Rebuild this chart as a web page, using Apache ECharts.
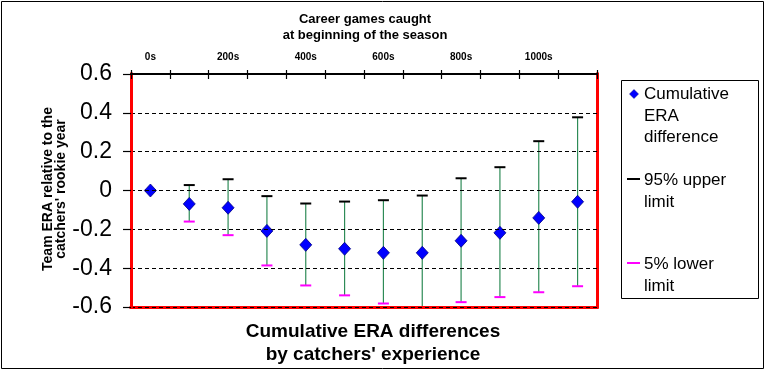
<!DOCTYPE html>
<html>
<head>
<meta charset="utf-8">
<script src="https://cdn.jsdelivr.net/npm/echarts@6/dist/echarts.min.js"></script>
<style>html,body{margin:0;padding:0;background:#fff}#c{width:772px;height:374px}</style>
</head>
<body>
<div id="c"></div>
<script>
var categories = ['0s','100s','200s','300s','400s','500s','600s','700s','800s','900s','1000s','1100s'];
var eraDiff = [0, -0.069, -0.089, -0.208, -0.28, -0.30, -0.321, -0.321, -0.259, -0.218, -0.141, -0.058];
var upper95 = [0, 0.028, 0.058, -0.029, -0.067, -0.057, -0.05, -0.026, 0.063, 0.12, 0.254, 0.377];
var lower5 = [0, -0.16, -0.23, -0.386, -0.489, -0.54, -0.582, -0.63, -0.575, -0.549, -0.524, -0.493];
var yTicks = [-0.6, -0.4, -0.2, 0, 0.2, 0.4, 0.6];

var F = '"Liberation Sans", Arial, sans-serif';
var chart = echarts.init(document.getElementById('c'), null, {renderer: 'canvas'});

var barData = categories.map(function (c, i) { return [i, lower5[i], upper95[i]]; });
var ptData = categories.map(function (c, i) { return [i, eraDiff[i]]; });

chart.setOption({
  animation: false,
  backgroundColor: '#fff',
  grid: {left: 131, right: 175, top: 74, bottom: 67, show: false},
  xAxis: [{
    type: 'category', data: categories, position: 'top', boundaryGap: true,
    axisLine: {show: true, onZero: false, lineStyle: {color: '#000', width: 2}},
    axisTick: {show: true, interval: 0, length: 4, inside: false, lineStyle: {color: '#000', width: 1.2}},
    axisLabel: {interval: 1, margin: 12, fontFamily: F, fontWeight: 'bold', fontSize: 10, color: '#000'},
    splitLine: {show: false}, z: 10
  }, {
    type: 'category', data: categories, position: 'top', boundaryGap: true,
    axisLine: {show: false, onZero: false},
    axisTick: {show: true, interval: 0, length: 5, inside: true, lineStyle: {color: '#000', width: 1.2}},
    axisLabel: {show: false}, splitLine: {show: false}, z: 10
  }, {
    type: 'category', data: categories, position: 'bottom', boundaryGap: true,
    axisLine: {show: true, onZero: false, lineStyle: {color: '#ff0000', width: 3, cap: 'square'}},
    axisTick: {show: false}, axisLabel: {show: false}, splitLine: {show: false}, z: 8
  }],
  yAxis: [{
    type: 'value', min: -0.6, max: 0.6, interval: 0.2, position: 'left',
    axisLine: {show: true, onZero: false, lineStyle: {color: '#ff0000', width: 3, cap: 'square'}},
    axisTick: {show: true, length: 8, lineStyle: {color: '#000', width: 1.2}},
    axisLabel: {margin: 19, fontFamily: F, fontSize: 23, color: '#000',
      formatter: function (v) { var r = Math.round(v * 10) / 10; return r === 0 ? '0' : String(r); }},
    splitLine: {show: true, lineStyle: {color: '#000', type: [4, 3], width: 1}},
    z: 9
  }, {
    type: 'value', min: -0.6, max: 0.6, interval: 0.2, position: 'right',
    axisLine: {show: true, onZero: false, lineStyle: {color: '#ff0000', width: 3, cap: 'square'}},
    axisTick: {show: false}, axisLabel: {show: false}, splitLine: {show: false}, z: 8
  }],
  series: [{
    type: 'custom', name: 'bars', xAxisIndex: 0, yAxisIndex: 0, clip: true, z: 2,
    data: barData,
    encode: {x: 0, y: [1, 2]},
    renderItem: function (params, api) {
      var x = api.value(0);
      var lo = api.coord([x, api.value(1)]);
      var hi = api.coord([x, api.value(2)]);
      var cw = 11;
      return {type: 'group', children: [
        {type: 'line', shape: {x1: lo[0], y1: lo[1], x2: hi[0], y2: hi[1]}, style: {stroke: '#2e8b57', lineWidth: 1.2}},
        {type: 'line', shape: {x1: hi[0] - cw / 2, y1: hi[1], x2: hi[0] + cw / 2, y2: hi[1]}, style: {stroke: '#000', lineWidth: 2}},
        {type: 'line', shape: {x1: lo[0] - cw / 2, y1: lo[1], x2: lo[0] + cw / 2, y2: lo[1]}, style: {stroke: '#ff00ff', lineWidth: 2}}
      ]};
    }
  }, {
    type: 'scatter', name: 'Cumulative ERA difference', data: ptData, xAxisIndex: 0, yAxisIndex: 0, z: 4,
    symbol: 'diamond', symbolSize: [12, 13],
    itemStyle: {color: '#0000ff', borderColor: '#000080', borderWidth: 0.8, opacity: 1}
  }],
  graphic: [
    {type: 'rect', shape: {x: 1.5, y: 1.5, width: 762, height: 367}, style: {fill: 'none', stroke: '#000', lineWidth: 1}, silent: true, z: -1},
    {type: 'text', x: 365, y: 11, style: {text: 'Career games caught\nat beginning of the season', font: 'bold 13px ' + F, fill: '#000', textAlign: 'center', lineHeight: 16}},
    {type: 'text', x: 55, y: 189, rotation: Math.PI / 2, style: {text: "Team ERA relative to the\ncatchers' rookie year", font: 'bold 14px ' + F, fill: '#000', textAlign: 'center', textVerticalAlign: 'middle', lineHeight: 13}},
    {type: 'text', x: 373, y: 320, style: {text: "Cumulative ERA differences\nby catchers' experience", font: 'bold 19px ' + F, fill: '#000', textAlign: 'center', lineHeight: 23}},
    {type: 'rect', shape: {x: 621.5, y: 80.5, width: 137, height: 218}, style: {fill: '#fff', stroke: '#000', lineWidth: 1}},
    {type: 'polygon', shape: {points: [[634, 89.5], [638.5, 94], [634, 98.5], [629.5, 94]]}, style: {fill: '#0000ff', stroke: '#000080', lineWidth: 0.5}},
    {type: 'text', x: 644, y: 84, style: {text: 'Cumulative\nERA\ndifference', font: '17px ' + F, fill: '#000', lineHeight: 21.5}},
    {type: 'line', shape: {x1: 627, y1: 179, x2: 640, y2: 179}, style: {stroke: '#000', lineWidth: 2}},
    {type: 'text', x: 644, y: 170, style: {text: '95% upper\nlimit', font: '17px ' + F, fill: '#000', lineHeight: 21.5}},
    {type: 'line', shape: {x1: 627, y1: 263, x2: 640, y2: 263}, style: {stroke: '#ff00ff', lineWidth: 2}},
    {type: 'text', x: 644, y: 254, style: {text: '5% lower\nlimit', font: '17px ' + F, fill: '#000', lineHeight: 21.5}}
  ]
});
</script>
</body>
</html>
